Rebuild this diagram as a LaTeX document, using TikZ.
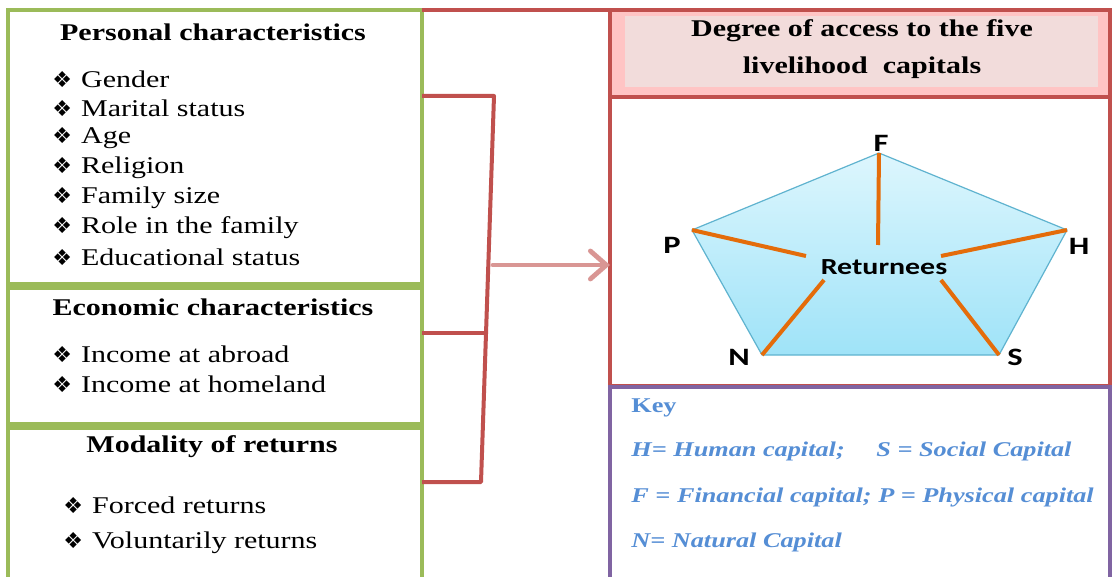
\documentclass[tikz,border=0pt]{standalone}
\usepackage{fontspec}
\setmainfont{Liberation Serif}[FakeStretch=1.25]
\newfontfamily\labfont{Carlito}[FakeStretch=1.3]
\newfontfamily\symfont{DejaVu Sans}
\usetikzlibrary{arrows.meta}
\definecolor{boxgreen}{HTML}{9BBB59}
\definecolor{boxred}{HTML}{C0504D}
\definecolor{boxpurple}{HTML}{8064A2}
\definecolor{arrowpink}{HTML}{D99694}
\definecolor{spoke}{HTML}{E46C0A}
\definecolor{keyblue}{HTML}{558ED5}
\definecolor{titlepink}{HTML}{F2DCDB}
\definecolor{titleedge}{HTML}{FFC4C4}
\definecolor{pentop}{HTML}{DDF6FD}
\definecolor{penbot}{HTML}{9FE3F8}
\definecolor{penedge}{HTML}{5FB3CF}
\newcommand\itm[1]{{\symfont\fontsize{11}{12}\selectfont ❖}\hspace{4.5pt}#1}
\begin{document}
\begin{tikzpicture}[x=0.5pt,y=-0.5pt,
  gbox/.style={draw=boxgreen,line width=1.6pt,anchor=north west,minimum width=207pt,inner sep=0pt,outer sep=0pt},
  rbox/.style={draw=boxred,line width=1.6pt,anchor=north west,minimum width=250pt,inner sep=0pt,outer sep=0pt},
  ttl/.style={font=\bfseries\fontsize{12}{14}\selectfont,inner sep=0pt},
  item/.style={anchor=west,font=\fontsize{12}{14}\selectfont,inner sep=0pt},
  keytxt/.style={anchor=west,text=keyblue,font=\bfseries\itshape\fontsize{10.5}{12}\selectfont,inner sep=0pt},
  lab/.style={font=\labfont\bfseries\fontsize{12.5}{14}\selectfont,inner sep=0pt},
  redline/.style={draw=boxred,line width=2pt},
  spokeline/.style={draw=spoke,line width=2pt}]
\clip (0,0) rectangle (1118,577);
\fill[white] (0,0) rectangle (1118,577);

% left boxes
\node[gbox,minimum height=137pt] (pers) at (8,10) {};
\node[gbox,minimum height=68pt] (econ) at (8,288) {};
\node[gbox,minimum height=90pt] (moda) at (8,428) {};

\node[ttl] (t1) at (213,32) {Personal characteristics};
\node[item] (p1) at (52,79) {\itm{Gender}};
\node[item] (p2) at (52,108) {\itm{Marital status}};
\node[item] (p3) at (52,138) {\itm{Age}};
\node[item] (p4) at (52,168) {\itm{Religion}};
\node[item] (p5) at (52,198) {\itm{Family size}};
\node[item] (p6) at (52,228) {\itm{Role in the family}};
\node[item] (p7) at (52,257) {\itm{Educational status}};

\node[ttl] (t2) at (213,307) {Economic characteristics};
\node[item] (e1) at (52,354) {\itm{Income at abroad}};
\node[item] (e2) at (52,384) {\itm{Income at homeland}};

\node[ttl] (t3) at (212,447) {Modality of returns};
\node[item] (m1) at (63,505) {\itm{Forced returns}};
\node[item] (m2) at (63,543) {\itm{Voluntarily returns}};

% right boxes
\node[rbox,minimum height=43.5pt,fill=titleedge] (title) at (610,10) {};
\fill[titlepink] (625,16) rectangle (1098,87);
\node[ttl,align=center,font=\bfseries\fontsize{12}{18.5}\selectfont] (tt) at (862,49) {Degree of access to the five\\livelihood\ \ capitals};
\node[rbox,minimum height=144.5pt] (mid) at (610,97) {};
\node[rbox,draw=boxpurple,minimum height=110pt] (key) at (610,387) {};

% top red line
\draw[redline,line width=1.6pt] (pers.north east) -- (title.north west);

% bracket
\coordinate (b1) at (494,96);
\coordinate (b2) at (486,333);
\coordinate (b3) at (481,482);
\coordinate (a0) at (493,265);
\draw[redline,line join=round] (pers.east |- b1) -- (b1) -- (b3) -- (moda.east |- b3);
\draw[redline] (econ.east |- b2) -- (b2);
\draw[draw=arrowpink,line width=2.4pt,line cap=round,-{Straight Barb[length=8pt,width=14pt,line cap=round]}] (a0) -- (mid.west |- a0);

% pentagon
\coordinate (F) at (879,153);
\coordinate (H) at (1067,230);
\coordinate (S) at (999,355);
\coordinate (N) at (762,355);
\coordinate (P) at (692,230);
\shade[top color=pentop,bottom color=penbot] (F) -- (H) -- (S) -- (N) -- (P) -- cycle;
\draw[penedge,line width=0.6pt,line join=round] (F) -- (H) -- (S) -- (N) -- (P) -- cycle;
\node[lab,font=\labfont\bfseries\fontsize{11.5}{13}\selectfont] (ret) at (884,267) {Returnees};
\coordinate (sF) at (878,245);
\coordinate (sP) at (806,256);
\coordinate (sH) at (941,256);
\coordinate (sN) at (824,280);
\coordinate (sS) at (941,280);
\draw[spokeline] (F) -- (sF);
\draw[spokeline] (P) -- (sP);
\draw[spokeline] (H) -- (sH);
\draw[spokeline] (N) -- (sN);
\draw[spokeline] (S) -- (sS);
\node[lab] (lF) at (881,143) {F};
\node[lab] (lP) at (672,245) {P};
\node[lab] (lH) at (1079,246) {H};
\node[lab] (lN) at (739,357) {N};
\node[lab] (lS) at (1015,357) {S};

% key
\node[keytxt,font=\bfseries\fontsize{10.5}{12}\selectfont] (k0) at (631,408) {Key};
\node[keytxt] (k1) at (631,451) {H= Human capital;};
\node[keytxt] (k2) at (876,451) {S = Social Capital};
\node[keytxt] (k3) at (631,497) {F = Financial capital; P = Physical capital};
\node[keytxt] (k4) at (631,542) {N= Natural Capital};
\end{tikzpicture}
\end{document}
